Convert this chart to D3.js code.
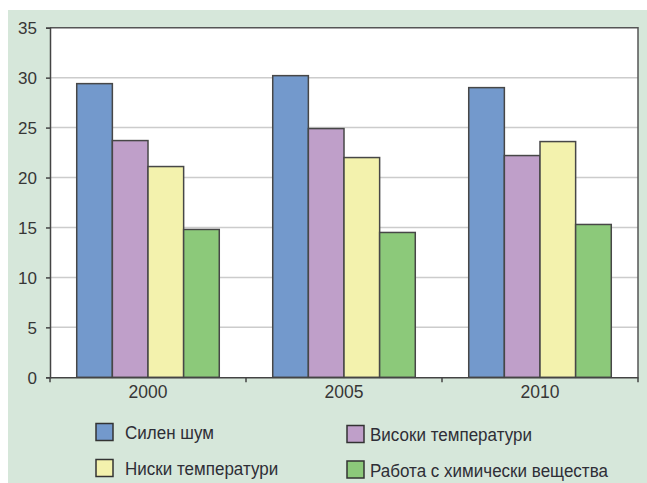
<!DOCTYPE html>
<html><head><meta charset="utf-8">
<script src="https://cdn.jsdelivr.net/npm/d3@7"></script>
<style>body{margin:0;background:#fff}svg{display:block}</style>
</head><body>
<script>
const categories = ["2000", "2005", "2010"];
const seriesNames = ["Силен шум", "Високи температури", "Ниски температури", "Работа с химически вещества"];
const seriesColors = ["#7399CC", "#BF9FC9", "#F3F2AD", "#8CC97A"];
const silenShum = [29.4, 30.2, 29.0];
const visokiTemp = [23.7, 24.9, 22.2];
const niskiTemp = [21.1, 22.0, 23.6];
const himichni = [14.8, 14.5, 15.3];
const yTicks = [0, 5, 10, 15, 20, 25, 30, 35];

(function () {
const values = [silenShum, visokiTemp, niskiTemp, himichni];
const W = 647, H = 483;
const svg = d3.select("body").append("svg").attr("width", W).attr("height", H);
svg.append("rect").attr("x", 8).attr("y", 10).attr("width", W - 8).attr("height", H - 10).attr("fill", "#D6E7DA");

const pL = 50, pR = 638, pT = 27.7, pB = 377.3;
svg.append("rect").attr("x", pL).attr("y", pT).attr("width", pR - pL).attr("height", pB - pT).attr("fill", "#fff");

const x = d3.scaleBand().domain(categories).range([pL, pR]).paddingInner(0).paddingOuter(0);
const xs = d3.scaleBand().domain(d3.range(4)).range([0, x.bandwidth()]).paddingOuter(0.75).paddingInner(0);
const y = d3.scaleLinear().domain([0, 35]).range([pB, pT]);

// gridlines
svg.append("g").selectAll("line").data(yTicks.filter(d => d > 0 && d < 35)).join("line")
  .attr("x1", pL).attr("x2", pR).attr("y1", d => y(d)).attr("y2", d => y(d))
  .attr("stroke", "#cccccc").attr("stroke-width", 1.5);

// frame top/right
svg.append("path").attr("d", `M${pL},${pT}H${pR}V${pB}`).attr("fill", "none").attr("stroke", "#555").attr("stroke-width", 1.5);

// bars
const g = svg.append("g");
categories.forEach((c, ci) => {
  values.forEach((arr, si) => {
    g.append("rect")
      .attr("x", x(c) + xs(si)).attr("width", xs.bandwidth())
      .attr("y", y(arr[ci])).attr("height", y(0) - y(arr[ci]))
      .attr("fill", seriesColors[si]).attr("stroke", "#474747").attr("stroke-width", 1.5);
  });
});

// y axis
const yAxis = svg.append("g").attr("transform", `translate(${pL},0)`)
  .call(d3.axisLeft(y).tickValues(yTicks).tickSize(4).tickPadding(9));
yAxis.select(".domain").attr("stroke", "#444").attr("stroke-width", 1.5);
yAxis.selectAll(".tick line").attr("stroke", "#444").attr("stroke-width", 1.5);
yAxis.selectAll("text").attr("fill", "#363636").style("font-family", "Liberation Sans, Arial, sans-serif").style("font-size", "17px").attr("dy", "0.36em");

// x axis
const xAxis = svg.append("g").attr("transform", `translate(0,${pB})`)
  .call(d3.axisBottom(x).tickSize(0).tickPadding(8));
xAxis.select(".domain").attr("stroke", "#444").attr("stroke-width", 1.5);
xAxis.selectAll("text").attr("fill", "#363636").style("font-family", "Liberation Sans, Arial, sans-serif").style("font-size", "17.5px");
const bounds = categories.map(c => x(c)).concat([x(categories[categories.length - 1]) + x.bandwidth()]);
svg.append("g").selectAll("line").data(bounds).join("line")
  .attr("x1", d => d).attr("x2", d => d).attr("y1", pB).attr("y2", pB + 5)
  .attr("stroke", "#444").attr("stroke-width", 1.5);

// legend
const legPos = [[96, 423.5], [347, 425.5], [96, 459.5], [347, 461]];
[0, 1, 2, 3].forEach((si, i) => {
  const [lx, ly] = legPos[i];
  svg.append("rect").attr("x", lx).attr("y", ly).attr("width", 17).attr("height", 17)
    .attr("fill", seriesColors[si]).attr("stroke", "#333").attr("stroke-width", 1.5);
  const tx = si % 2 === 0 ? lx + 29 : lx + 23;
  svg.append("text").attr("transform", `translate(${tx},${ly + 15.5}) scale(0.92,1)`)
    .text(seriesNames[si]).attr("fill", "#2e2e36")
    .style("font-family", "'Liberation Sans Narrow', 'Arial Narrow', sans-serif").style("font-size", "18.5px");
});
})();
</script>
</body></html>
